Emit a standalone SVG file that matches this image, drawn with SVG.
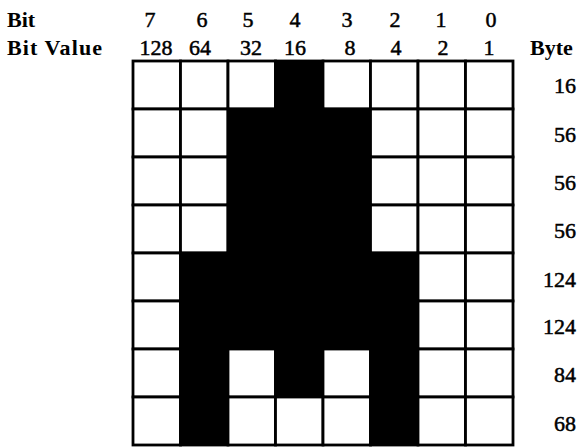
<svg xmlns="http://www.w3.org/2000/svg" width="579" height="448" viewBox="0 0 579 448">
<style>
.lbl{font-family:"Liberation Serif",serif;font-size:22px;font-weight:bold;fill:#000}
.num{font-family:"Liberation Serif",serif;font-size:22px;fill:#000;stroke:#000;stroke-width:0.5;text-anchor:middle}
.byte{font-family:"Liberation Serif",serif;font-size:22px;fill:#000;stroke:#000;stroke-width:0.5;text-anchor:end}
.w{fill:#fff;stroke:#000;stroke-width:2.8}
.b{fill:#000;stroke:#000;stroke-width:2.8}
</style>
<rect width="579" height="448" fill="#fff"/>
<g id="headers">
<text class="lbl" x="7" y="27">Bit</text>
<text class="lbl" x="7" y="55" textLength="95" lengthAdjust="spacing">Bit Value</text>
<text class="lbl" x="530" y="55">Byte</text>
</g>
<g id="bit-numbers">
<text class="num" x="150" y="27">7</text>
<text class="num" x="202" y="27">6</text>
<text class="num" x="248" y="27">5</text>
<text class="num" x="295" y="27">4</text>
<text class="num" x="347" y="27">3</text>
<text class="num" x="395" y="27">2</text>
<text class="num" x="441" y="27">1</text>
<text class="num" x="491" y="27">0</text>
</g>
<g id="bit-values">
<text class="num" x="156" y="55">128</text>
<text class="num" x="200" y="55">64</text>
<text class="num" x="251" y="55">32</text>
<text class="num" x="295" y="55">16</text>
<text class="num" x="350" y="55">8</text>
<text class="num" x="396" y="55">4</text>
<text class="num" x="443" y="55">2</text>
<text class="num" x="489" y="55">1</text>
</g>
<g id="grid">
<g id="row0">
<rect class="w" x="133" y="61" width="47.5" height="48"/><rect class="w" x="180.5" y="61" width="47.5" height="48"/><rect class="w" x="228" y="61" width="47.5" height="48"/><rect class="b" x="275.5" y="61" width="47.5" height="48"/><rect class="w" x="323" y="61" width="47.5" height="48"/><rect class="w" x="370.5" y="61" width="47.5" height="48"/><rect class="w" x="418" y="61" width="47.5" height="48"/><rect class="w" x="465.5" y="61" width="47.5" height="48"/>
</g>
<g id="row1">
<rect class="w" x="133" y="109" width="47.5" height="48"/><rect class="w" x="180.5" y="109" width="47.5" height="48"/><rect class="b" x="228" y="109" width="47.5" height="48"/><rect class="b" x="275.5" y="109" width="47.5" height="48"/><rect class="b" x="323" y="109" width="47.5" height="48"/><rect class="w" x="370.5" y="109" width="47.5" height="48"/><rect class="w" x="418" y="109" width="47.5" height="48"/><rect class="w" x="465.5" y="109" width="47.5" height="48"/>
</g>
<g id="row2">
<rect class="w" x="133" y="157" width="47.5" height="48"/><rect class="w" x="180.5" y="157" width="47.5" height="48"/><rect class="b" x="228" y="157" width="47.5" height="48"/><rect class="b" x="275.5" y="157" width="47.5" height="48"/><rect class="b" x="323" y="157" width="47.5" height="48"/><rect class="w" x="370.5" y="157" width="47.5" height="48"/><rect class="w" x="418" y="157" width="47.5" height="48"/><rect class="w" x="465.5" y="157" width="47.5" height="48"/>
</g>
<g id="row3">
<rect class="w" x="133" y="205" width="47.5" height="48"/><rect class="w" x="180.5" y="205" width="47.5" height="48"/><rect class="b" x="228" y="205" width="47.5" height="48"/><rect class="b" x="275.5" y="205" width="47.5" height="48"/><rect class="b" x="323" y="205" width="47.5" height="48"/><rect class="w" x="370.5" y="205" width="47.5" height="48"/><rect class="w" x="418" y="205" width="47.5" height="48"/><rect class="w" x="465.5" y="205" width="47.5" height="48"/>
</g>
<g id="row4">
<rect class="w" x="133" y="253" width="47.5" height="48"/><rect class="b" x="180.5" y="253" width="47.5" height="48"/><rect class="b" x="228" y="253" width="47.5" height="48"/><rect class="b" x="275.5" y="253" width="47.5" height="48"/><rect class="b" x="323" y="253" width="47.5" height="48"/><rect class="b" x="370.5" y="253" width="47.5" height="48"/><rect class="w" x="418" y="253" width="47.5" height="48"/><rect class="w" x="465.5" y="253" width="47.5" height="48"/>
</g>
<g id="row5">
<rect class="w" x="133" y="301" width="47.5" height="48"/><rect class="b" x="180.5" y="301" width="47.5" height="48"/><rect class="b" x="228" y="301" width="47.5" height="48"/><rect class="b" x="275.5" y="301" width="47.5" height="48"/><rect class="b" x="323" y="301" width="47.5" height="48"/><rect class="b" x="370.5" y="301" width="47.5" height="48"/><rect class="w" x="418" y="301" width="47.5" height="48"/><rect class="w" x="465.5" y="301" width="47.5" height="48"/>
</g>
<g id="row6">
<rect class="w" x="133" y="349" width="47.5" height="48"/><rect class="b" x="180.5" y="349" width="47.5" height="48"/><rect class="w" x="228" y="349" width="47.5" height="48"/><rect class="b" x="275.5" y="349" width="47.5" height="48"/><rect class="w" x="323" y="349" width="47.5" height="48"/><rect class="b" x="370.5" y="349" width="47.5" height="48"/><rect class="w" x="418" y="349" width="47.5" height="48"/><rect class="w" x="465.5" y="349" width="47.5" height="48"/>
</g>
<g id="row7">
<rect class="w" x="133" y="397" width="47.5" height="48"/><rect class="b" x="180.5" y="397" width="47.5" height="48"/><rect class="w" x="228" y="397" width="47.5" height="48"/><rect class="w" x="275.5" y="397" width="47.5" height="48"/><rect class="w" x="323" y="397" width="47.5" height="48"/><rect class="b" x="370.5" y="397" width="47.5" height="48"/><rect class="w" x="418" y="397" width="47.5" height="48"/><rect class="w" x="465.5" y="397" width="47.5" height="48"/>
</g>
</g>
<g id="byte-values">
<text class="byte" x="576" y="93">16</text>
<text class="byte" x="576" y="142">56</text>
<text class="byte" x="576" y="190">56</text>
<text class="byte" x="576" y="238">56</text>
<text class="byte" x="576" y="287">124</text>
<text class="byte" x="576" y="334">124</text>
<text class="byte" x="576" y="382">84</text>
<text class="byte" x="576" y="431">68</text>
</g>
</svg>
